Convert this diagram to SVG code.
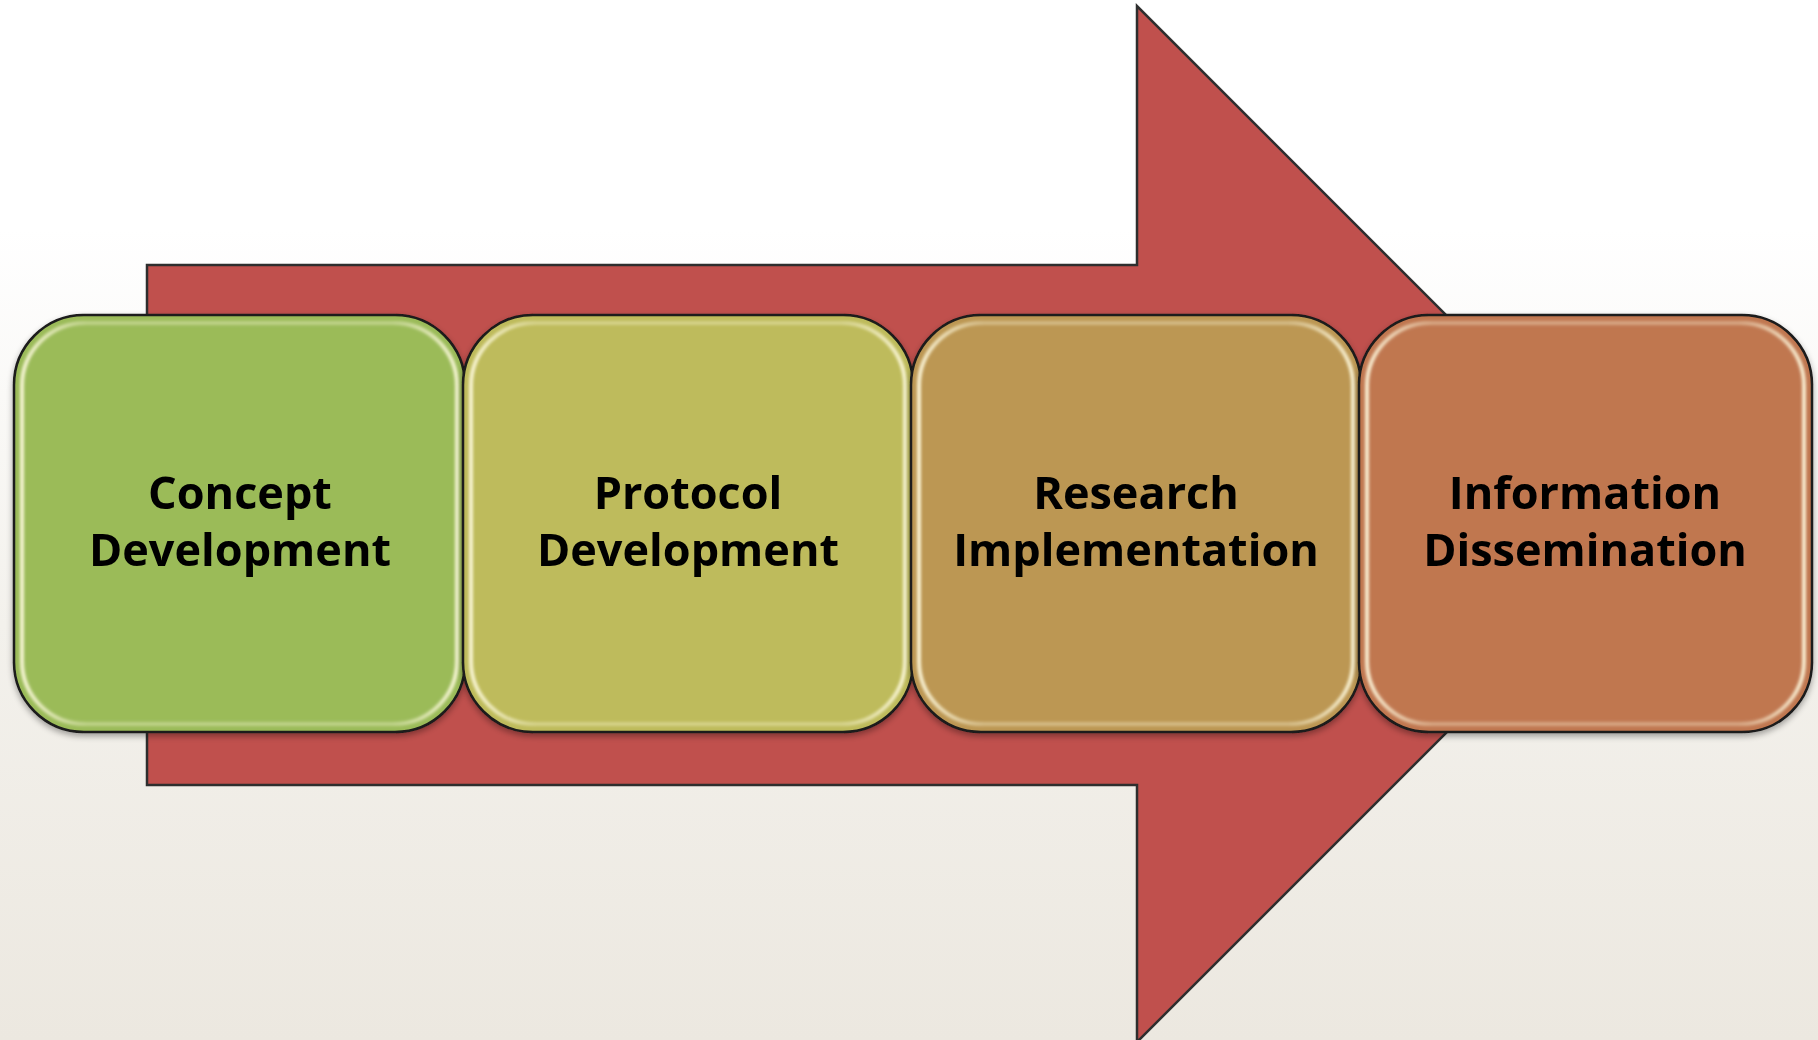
<svg xmlns="http://www.w3.org/2000/svg" width="1818" height="1040" viewBox="0 0 1818 1040">
  <defs>
    <linearGradient id="bg" x1="0" y1="0" x2="0" y2="1">
      <stop offset="0" stop-color="#ffffff"/>
      <stop offset="0.22" stop-color="#ffffff"/>
      <stop offset="0.6" stop-color="#f3f1ec"/>
      <stop offset="1" stop-color="#ece8e0"/>
    </linearGradient>
    <linearGradient id="glossH" x1="0" y1="0" x2="1" y2="0">
      <stop offset="0" stop-color="#fffbe0" stop-opacity="0.9"/>
      <stop offset="0.15" stop-color="#fffbe0" stop-opacity="0.35"/>
      <stop offset="0.85" stop-color="#fffbe0" stop-opacity="0.35"/>
      <stop offset="1" stop-color="#fffbe0" stop-opacity="0.9"/>
    </linearGradient>
    <filter id="soft" x="-5%" y="-5%" width="110%" height="110%">
      <feGaussianBlur stdDeviation="1.5"/>
    </filter>
    <filter id="shadow" x="-5%" y="-5%" width="110%" height="115%">
      <feGaussianBlur in="SourceAlpha" stdDeviation="3"/>
      <feOffset dy="3"/>
      <feComponentTransfer><feFuncA type="linear" slope="0.35"/></feComponentTransfer>
      <feMerge><feMergeNode/><feMergeNode in="SourceGraphic"/></feMerge>
    </filter>
  </defs>
  <style>
    .box { stroke: #1a1a1a; stroke-width: 2.5; }
    .gloss { fill: none; stroke: url(#glossH); stroke-width: 4; }
    .lbl { font-family: "Open Sans", "Noto Sans", "Liberation Sans", sans-serif; font-weight: 700; font-size: 45px; fill: #000; text-anchor: middle; }
  </style>
  <rect x="0" y="0" width="1818" height="1040" fill="url(#bg)"/>

  <g id="connectors">
    <path id="arrow" d="M147 265 H1137 V6 L1655 524 L1137 1042 V785 H147 Z" fill="#c0504d" stroke="#2e2e2e" stroke-width="2.5" stroke-linejoin="miter"/>
  </g>

  <g id="node-concept" filter="url(#shadow)">
    <rect class="box" x="14" y="315" width="451" height="417" rx="70" fill="#9bbb59"/>
    <rect class="gloss" x="22" y="323" width="435" height="401" rx="63" filter="url(#soft)"/>
    <text class="lbl" x="240" y="509">Concept</text>
    <text class="lbl" x="240" y="566">Development</text>
  </g>
  <g id="node-protocol" filter="url(#shadow)">
    <rect class="box" x="463" y="315" width="450" height="417" rx="70" fill="#bebb5b"/>
    <rect class="gloss" x="471" y="323" width="434" height="401" rx="63" filter="url(#soft)"/>
    <text class="lbl" x="688" y="509">Protocol</text>
    <text class="lbl" x="688" y="566">Development</text>
  </g>
  <g id="node-research" filter="url(#shadow)">
    <rect class="box" x="911" y="315" width="450" height="417" rx="70" fill="#bc9753"/>
    <rect class="gloss" x="919" y="323" width="434" height="401" rx="63" filter="url(#soft)"/>
    <text class="lbl" x="1136" y="509">Research</text>
    <text class="lbl" x="1136" y="566">Implementation</text>
  </g>
  <g id="node-information" filter="url(#shadow)">
    <rect class="box" x="1359" y="315" width="453" height="417" rx="70" fill="#c07750"/>
    <rect class="gloss" x="1367" y="323" width="437" height="401" rx="63" filter="url(#soft)"/>
    <text class="lbl" x="1585" y="509">Information</text>
    <text class="lbl" x="1585" y="566">Dissemination</text>
  </g>
</svg>
